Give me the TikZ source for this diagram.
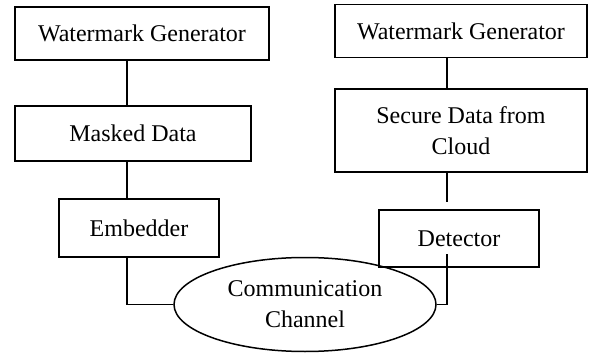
\documentclass[tikz,border=0pt]{standalone}
\usepackage{fontspec}
\setmainfont{Liberation Serif}
\usetikzlibrary{shapes.geometric}

\begin{document}
\begin{tikzpicture}[x=0.5pt,y=-0.5pt,line width=0.75pt,
    every node/.style={draw,font=\fontsize{12}{15.5}\selectfont,align=center,inner sep=0}]
  \useasboundingbox (0,0) rectangle (589,353);
  % left side
  \node[minimum width=127pt,minimum height=26.5pt] (wgl) at (142,33.5) {Watermark Generator};
  \node[minimum width=118pt,minimum height=27.5pt] (masked) at (133,133.5) {Masked Data};
  \node[minimum width=80pt,minimum height=29pt] (embed) at (139,228) {Embedder};
  % right side
  \node[minimum width=126pt,minimum height=26.5pt] (wgr) at (461,31) {Watermark Generator};
  \node[minimum width=126pt,minimum height=41.5pt] (secure) at (461,130.5) {Secure Data from\\Cloud};
  \node[minimum width=80pt,minimum height=28.5pt] (detect) at (459,238.5) {Detector};
  % channel
  \node[ellipse,minimum width=131pt,minimum height=47pt] (chan) at (305,304.5) {Communication\\Channel};
  \coordinate (lx) at (127,0);
  \coordinate (rx) at (447,0);
  \coordinate (secend) at (447,202);
  \coordinate (detin) at (447,254);
  \draw (wgl.south -| lx) -- (masked.north -| lx);
  \draw (masked.south -| lx) -- (embed.north -| lx);
  \draw (embed.south -| lx) |- (chan.west);
  \draw (wgr.south -| rx) -- (secure.north -| rx);
  \draw (secure.south -| rx) -- (secend);
  \draw (detin) |- (chan.east);
\end{tikzpicture}
\end{document}
